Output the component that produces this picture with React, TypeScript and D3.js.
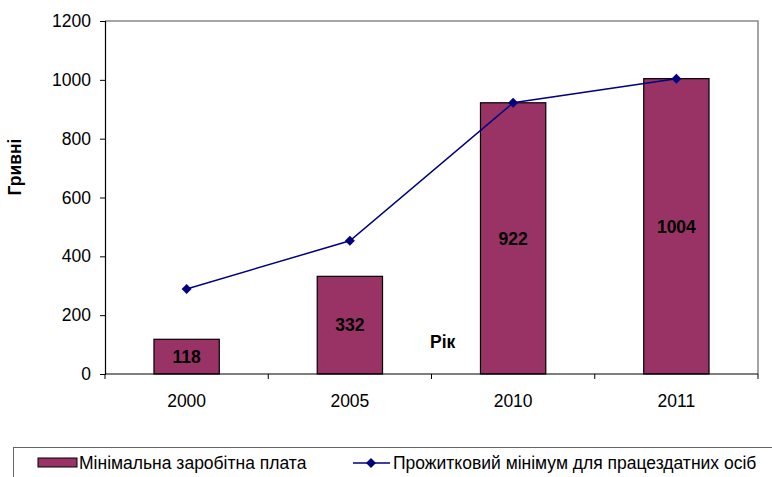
import React, { useEffect, useRef } from 'react';
import * as d3 from 'd3';

const years = ['2000', '2005', '2010', '2011'];
const minWage = [118, 332, 922, 1004];
const livingMin = [289, 453, 922, 1004];
const yTicks = [0, 200, 400, 600, 800, 1000, 1200];

const barName = 'Мінімальна заробітна плата';
const lineName = 'Прожитковий мінімум для працездатних осіб';

export default function App() {
  const svgRef = useRef<SVGSVGElement>(null);

  useEffect(() => {
    if (!svgRef.current) return;
    const svg = d3.select(svgRef.current);
    svg.selectAll('*').remove();

    const font = 'Arial, "Liberation Sans", sans-serif';
    const fs = 17.5;
    const left = 105;
    const right = 758;
    const top = 21;
    const bottom = 374;

    const x = d3.scaleBand<string>().domain(years).range([left, right]).paddingInner(0).paddingOuter(0);
    const y = d3.scaleLinear().domain([0, 1200]).range([bottom, top]);
    const barW = x.bandwidth() * 0.4;
    const cx = (i: number) => x(years[i])! + x.bandwidth() / 2;

    // plot area frame (top/right in grey)
    svg.append('path')
      .attr('d', `M${left},${top}H${right}V${bottom}`)
      .attr('fill', 'none')
      .attr('stroke', '#888')
      .attr('stroke-width', 1.5);

    // bars
    svg.selectAll('.bar')
      .data(minWage)
      .enter()
      .append('rect')
      .attr('x', (d, i) => cx(i) - barW / 2)
      .attr('y', (d) => y(d))
      .attr('width', barW)
      .attr('height', (d) => y(0) - y(d))
      .attr('fill', '#993366')
      .attr('stroke', '#000')
      .attr('stroke-width', 1.2);

    // bar labels
    svg.selectAll('.blabel')
      .data(minWage)
      .enter()
      .append('text')
      .attr('x', (d, i) => cx(i))
      .attr('y', (d) => (y(d) + y(0)) / 2)
      .attr('dy', '0.36em')
      .attr('text-anchor', 'middle')
      .attr('font-family', font)
      .attr('font-size', fs)
      .attr('font-weight', 'bold')
      .attr('fill', '#000')
      .text((d) => d);

    // y axis
    const yAxis = svg.append('g').attr('transform', `translate(${left},0)`)
      .call(d3.axisLeft(y).tickValues(yTicks).tickSize(5).tickPadding(9).tickFormat(d3.format('d')));
    yAxis.select('.domain').attr('stroke', '#000').attr('stroke-width', 1.2);
    yAxis.selectAll('.tick line').attr('stroke', '#000');
    yAxis.selectAll('text').attr('font-family', font).attr('font-size', fs).attr('fill', '#000');

    // x axis
    svg.append('line')
      .attr('x1', left).attr('x2', right).attr('y1', bottom).attr('y2', bottom)
      .attr('stroke', '#000').attr('stroke-width', 1.2);
    svg.selectAll('.xtick')
      .data(years.concat(['end']))
      .enter()
      .append('line')
      .attr('x1', (d, i) => left + i * x.step())
      .attr('x2', (d, i) => left + i * x.step())
      .attr('y1', bottom)
      .attr('y2', bottom + 5)
      .attr('stroke', '#000');
    svg.selectAll('.xlabel')
      .data(years)
      .enter()
      .append('text')
      .attr('x', (d, i) => cx(i))
      .attr('y', 407)
      .attr('text-anchor', 'middle')
      .attr('font-family', font)
      .attr('font-size', fs)
      .text((d) => d);

    // line series
    const line = d3.line<number>()
      .x((d, i) => cx(i))
      .y((d) => y(d));
    svg.append('path')
      .datum(livingMin)
      .attr('d', line)
      .attr('fill', 'none')
      .attr('stroke', '#000080')
      .attr('stroke-width', 1.5);
    const diamond = d3.symbol().type(d3.symbolSquare).size(50);
    svg.selectAll('.marker')
      .data(livingMin)
      .enter()
      .append('path')
      .attr('d', diamond)
      .attr('transform', (d, i) => `translate(${cx(i)},${y(d)}) rotate(45)`)
      .attr('fill', '#000080');

    // axis titles
    svg.append('text')
      .attr('transform', `translate(21,167) rotate(-90)`)
      .attr('text-anchor', 'middle')
      .attr('font-family', font)
      .attr('font-size', fs)
      .attr('font-weight', 'bold')
      .text('Гривні');
    svg.append('text')
      .attr('x', 430)
      .attr('y', 348)
      .attr('font-family', font)
      .attr('font-size', fs)
      .attr('font-weight', 'bold')
      .text('Рік');

    // legend
    svg.append('rect')
      .attr('x', 13.5).attr('y', 447.5).attr('width', 780).attr('height', 60)
      .attr('fill', 'none').attr('stroke', '#666').attr('stroke-width', 1);
    svg.append('rect')
      .attr('x', 38).attr('y', 458).attr('width', 39).attr('height', 9)
      .attr('fill', '#993366').attr('stroke', '#000').attr('stroke-width', 1);
    svg.append('text')
      .attr('x', 79).attr('y', 469)
      .attr('font-family', font).attr('font-size', fs)
      .text(barName);
    svg.append('line')
      .attr('x1', 353).attr('x2', 390).attr('y1', 463).attr('y2', 463)
      .attr('stroke', '#000080').attr('stroke-width', 1.5);
    svg.append('path')
      .attr('d', diamond)
      .attr('transform', 'translate(371,463) rotate(45)')
      .attr('fill', '#000080');
    svg.append('text')
      .attr('x', 393).attr('y', 469)
      .attr('font-family', font).attr('font-size', fs)
      .text(lineName);
  }, []);

  return (
    <svg
      ref={svgRef}
      width={772}
      height={477}
      style={{ position: 'absolute', left: 0, top: 0, background: '#fff' }}
    />
  );
}
